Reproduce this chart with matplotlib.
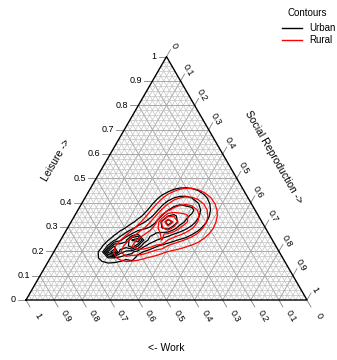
import numpy as np
import matplotlib
matplotlib.use("Agg")
import matplotlib.pyplot as plt

plt.rcParams['font.family'] = ['Liberation Sans', 'DejaVu Sans']

# ternary ticks
ticks = [0, 0.1, 0.2, 0.3, 0.4, 0.5, 0.6, 0.7, 0.8, 0.9, 1]
tick_labels = ['0', '0.1', '0.2', '0.3', '0.4', '0.5', '0.6', '0.7', '0.8', '0.9', '1']

# density components (work, leisure, social reproduction)
urban_work = [0.274, 0.535, 0.419, 0.588, 0.493, 0.335, 0.539, 0.224]
urban_leisure = [0.357, 0.226, 0.279, 0.205, 0.238, 0.316, 0.168, 0.370]
urban_social = [0.369, 0.239, 0.302, 0.207, 0.269, 0.349, 0.293, 0.406]
urban_sd_major = [0.065, 0.06, 0.06, 0.016, 0.018, 0.02, 0.008, 0.008]
urban_sd_minor = [0.05, 0.026, 0.035, 0.009, 0.011, 0.015, 0.008, 0.008]
urban_angle = [20, 28, 22, 25, 30, 30, 0, 0]
urban_weight = [0.35, 0.35, 0.2, 0.8, 0.55, 0.3, 0.08, 0.06]

rural_work = [0.264, 0.481, 0.384, 0.335, 0.397, 0.551]
rural_leisure = [0.341, 0.226, 0.279, 0.320, 0.238, 0.193]
rural_social = [0.395, 0.293, 0.337, 0.345, 0.365, 0.256]
rural_sd_major = [0.065, 0.06, 0.06, 0.02, 0.01, 0.01]
rural_sd_minor = [0.055, 0.028, 0.04, 0.016, 0.01, 0.01]
rural_angle = [20, 20, 20, 30, 0, 0]
rural_weight = [0.4, 0.3, 0.2, 0.45, 0.1, 0.1]

contour_levels = [0.08, 0.18, 0.3, 0.42, 0.55, 0.7, 0.85, 1.0]

X0, Y0, SIDE = 26.0, 300.0, 281.0
H = np.sqrt(3) / 2


def to_px(work, leisure, social):
    work, leisure, social = (np.asarray(v, dtype=float) for v in (work, leisure, social))
    tot = work + leisure + social
    l, s = leisure / tot, social / tot
    return X0 + SIDE * (s + l / 2), Y0 - SIDE * H * l


def density(xx, yy, work, leisure, social, sdx, sdy, ang, wt):
    z = np.zeros_like(xx)
    cx, cy = to_px(work, leisure, social)
    for i in range(len(wt)):
        a = np.deg2rad(ang[i])
        dx = (xx - cx[i]) / SIDE
        dy = -(yy - cy[i]) / SIDE
        u = dx * np.cos(a) + dy * np.sin(a)
        v = -dx * np.sin(a) + dy * np.cos(a)
        z += wt[i] * np.exp(-0.5 * ((u / sdx[i]) ** 2 + (v / sdy[i]) ** 2))
    return z


fig = plt.figure(figsize=(3.37, 3.6), dpi=100)
ax = fig.add_axes([0, 0, 1, 1])
ax.set_xlim(0, 337)
ax.set_ylim(360, 0)
ax.axis('off')

# grid
minor = np.arange(0.02, 1.0, 0.02)
for g in minor:
    col, lw = ('#a8a8a8', 0.7) if abs(g * 10 - round(g * 10)) < 1e-6 else ('#c4c4c4', 0.5)
    x, y = to_px([1 - g, 0], [g, g], [0, 1 - g])
    ax.plot(x, y, color=col, lw=lw, zorder=1)
    x, y = to_px([g, g], [1 - g, 0], [0, 1 - g])
    ax.plot(x, y, color=col, lw=lw, zorder=1)
    x, y = to_px([1 - g, 0], [0, 1 - g], [g, g])
    ax.plot(x, y, color=col, lw=lw, zorder=1)

# triangle
x, y = to_px([1, 0, 0, 1], [0, 1, 0, 0], [0, 0, 1, 0])
ax.plot(x, y, color='black', lw=1.0, zorder=5)

tl = 8.0
for t, lab in zip(ticks, tick_labels):
    # leisure: left edge
    x, y = to_px(1 - t, t, 0)
    ax.plot([x - tl, x], [y, y], color='#808080', lw=0.6)
    ax.text(x - tl - 2, y, lab, ha='right', va='center', fontsize=6.5)
    # social reproduction: right edge
    x, y = to_px(0, 1 - t, t)
    dx, dy = tl * 0.5, -tl * H
    ax.plot([x, x + dx], [y, y + dy], color='#808080', lw=0.6)
    ax.text(x + dx * 1.9, y + dy * 1.5, lab, ha='center', va='center', fontsize=6.5, rotation=-60)
    # work: bottom edge
    x, y = to_px(t, 0, 1 - t)
    dx, dy = tl * 0.5, tl * H
    ax.plot([x, x + dx], [y, y + dy], color='#808080', lw=0.6)
    ax.text(x + dx * 3.0, y + dy * 2.3, lab, ha='center', va='center', fontsize=6.5, rotation=-60)

ax.text(56, 160, 'Leisure ->', ha='center', va='center', fontsize=7.5, rotation=60)
ax.text(274, 157, 'Social Reproduction ->', ha='center', va='center', fontsize=7.5, rotation=-60)
ax.text(166, 348, '<- Work', ha='center', va='center', fontsize=7.5)

# contours on a coarse grid
gx, gy = np.meshgrid(np.linspace(60, 270, 36), np.linspace(150, 300, 26))
zu = density(gx, gy, urban_work, urban_leisure, urban_social,
             urban_sd_major, urban_sd_minor, urban_angle, urban_weight)
zr = density(gx, gy, rural_work, rural_leisure, rural_social,
             rural_sd_major, rural_sd_minor, rural_angle, rural_weight)
ax.contour(gx, gy, zu, levels=contour_levels, colors='black', linewidths=0.9, zorder=3)
ax.contour(gx, gy, zr, levels=contour_levels, colors='red', linewidths=0.9, zorder=4)

# legend
ax.text(307, 13, 'Contours', ha='center', va='center', fontsize=7)
ax.plot([282, 302], [28, 28], color='black', lw=1.0)
ax.plot([282, 302], [40, 40], color='red', lw=1.0)
ax.text(309, 28, 'Urban', ha='left', va='center', fontsize=7)
ax.text(309, 40, 'Rural', ha='left', va='center', fontsize=7)

fig.savefig('out.png', dpi=100)
